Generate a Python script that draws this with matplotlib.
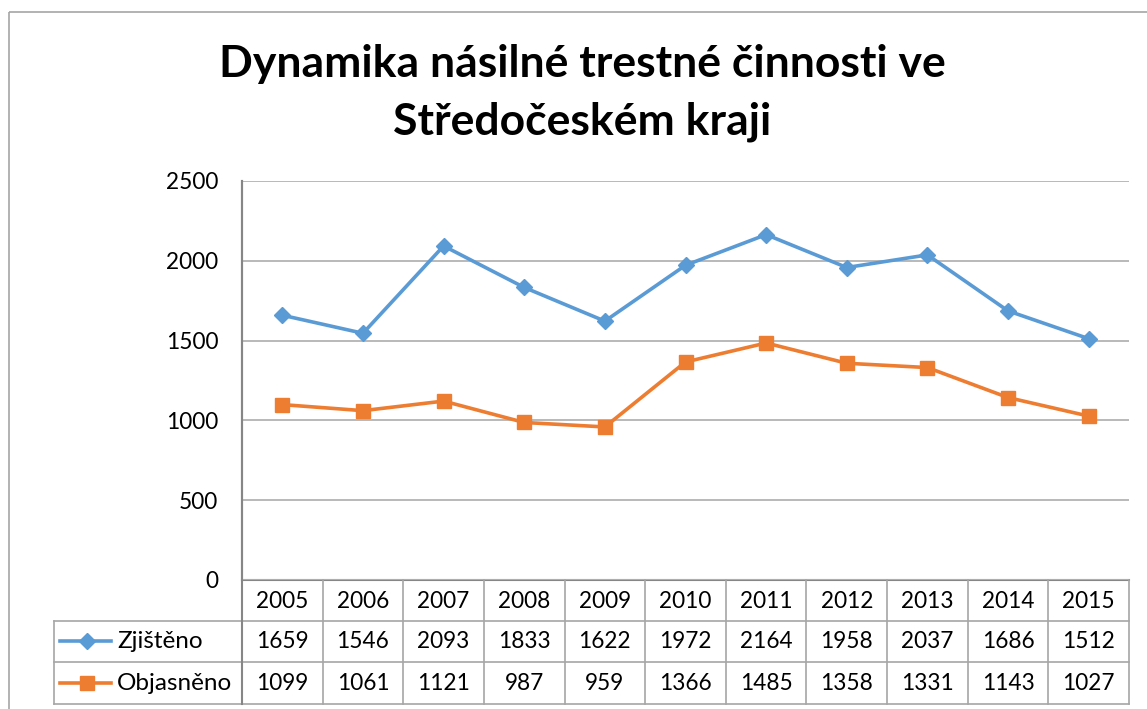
import matplotlib
matplotlib.use("Agg")
import matplotlib.pyplot as plt
import matplotlib.transforms as mtransforms
from matplotlib.lines import Line2D

years = ["2005", "2006", "2007", "2008", "2009", "2010", "2011", "2012", "2013", "2014", "2015"]
zjisteno = [1659, 1546, 2093, 1833, 1622, 1972, 2164, 1958, 2037, 1686, 1512]
objasneno = [1099, 1061, 1121, 987, 959, 1366, 1485, 1358, 1331, 1143, 1027]
series_names = ["Zjištěno", "Objasněno"]
title_lines = ["Dynamika násilné trestné činnosti ve", "Středočeském kraji"]
yticks = [0, 500, 1000, 1500, 2000, 2500]

BLUE = "#5B9BD5"
ORANGE = "#ED7D31"
GRID = "#B3B3B3"
AXIS = "#868686"
TBL = "#A6A6A6"
FONT = "Lato"
FS = 16.3

W, H = 1147, 709
fig = plt.figure(figsize=(W / 100, H / 100), dpi=100)

# overlay in pixel coordinates
ov = fig.add_axes([0, 0, 1, 1], zorder=0)
ov.set_xlim(0, W)
ov.set_ylim(H, 0)
ov.axis("off")

# outer frame
ov.add_patch(plt.Rectangle((8.5, 11.5), W + 5, H + 5, fill=False, ec=TBL, lw=1.2))

L, R, T, B = 242, 1129, 181, 580
ax = fig.add_axes([L / W, 1 - B / H, (R - L) / W, (B - T) / H], zorder=2)
ax.patch.set_alpha(0)
x = list(range(len(years)))
ax.plot(x, zjisteno, color=BLUE, lw=2.6, marker="D", ms=8.5, mfc=BLUE, mec=BLUE, zorder=4)
ax.plot(x, objasneno, color=ORANGE, lw=2.6, marker="s", ms=9.5, mfc=ORANGE, mec=ORANGE, zorder=4)
ax.set_xlim(-0.5, len(years) - 0.5)
ax.set_ylim(0, 2500)
ax.set_yticks(yticks)
ax.set_yticklabels([str(v) for v in yticks], fontsize=FS, family=FONT)
ax.tick_params(axis="y", length=0, pad=17)
ax.set_xticks([])
ax.grid(axis="y", color=GRID, lw=1.3)
for s in ["top", "right", "bottom"]:
    ax.spines[s].set_visible(False)
ax.spines["left"].set_color(AXIS)
ax.spines["left"].set_linewidth(1.5)
ax.set_axisbelow(True)

# title
ov.text(582, 64, title_lines[0], ha="center", va="center",
        fontsize=32, fontweight="bold", family=FONT)
ov.text(582, 122, title_lines[1], ha="center", va="center",
        fontsize=32, fontweight="bold", family=FONT)

# data table
blend = mtransforms.blended_transform_factory(ax.transData, ov.transData)
rows_y = [580, 621, 662, 704]
n = len(years)
ov.plot([L, R], [580, 580], color=AXIS, lw=1.5, zorder=3)
for yy in rows_y[1:]:
    ov.plot([54, R], [yy, yy], color=TBL, lw=1.2, zorder=3)
ov.plot([L, L], [T, 704], color=AXIS, lw=1.5, zorder=3)
ov.plot([54, 54], [621, 704], color=TBL, lw=1.2, zorder=3)
for i in range(1, n + 1):
    ax.plot([i - 0.5, i - 0.5], [580, 704], color=TBL, lw=1.2, transform=blend, clip_on=False, zorder=3)

cy = [601, 641, 683]
for i, yr in enumerate(years):
    ax.text(i, cy[0], yr, ha="center", va="center", fontsize=FS, family=FONT, transform=blend)
    ax.text(i, cy[1], str(zjisteno[i]), ha="center", va="center", fontsize=FS, family=FONT, transform=blend)
    ax.text(i, cy[2], str(objasneno[i]), ha="center", va="center", fontsize=FS, family=FONT, transform=blend)

# legend keys
for (name, col, mk, ms), yy in zip([(series_names[0], BLUE, "D", 8.5), (series_names[1], ORANGE, "s", 9.5)], cy[1:]):
    ov.add_line(Line2D([60, 111], [yy, yy], color=col, lw=2.6))
    ov.add_line(Line2D([87], [yy], color=col, marker=mk, ms=ms, mfc=col, mec=col))
    ov.text(117, yy, name, ha="left", va="center", fontsize=17.5, family=FONT)

fig.savefig("out.png", dpi=100)
